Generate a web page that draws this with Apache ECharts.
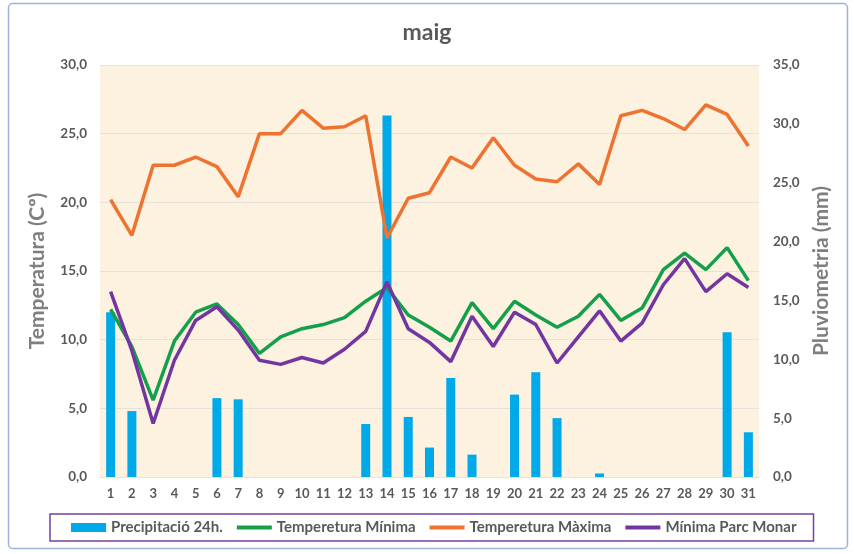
<!DOCTYPE html>
<html>
<head>
<meta charset="utf-8">
<title>maig</title>
<script src="https://cdn.jsdelivr.net/npm/echarts@6/dist/echarts.min.js"></script>
<style>
    html, body { margin: 0; padding: 0; background: #fff; }
    #chart { width: 854px; height: 554px; }
</style>
</head>
<body>
<div id="chart"></div>
<script>
// dies del mes
var dies = [];
for (var d = 1; d <= 31; d++) dies.push(String(d));

// precipitació 24h (mm)
var precipitacio = [14.0, 5.6, 0, 0, 0, 6.7, 6.6, 0, 0, 0, 0, 0, 4.5, 30.7, 5.1, 2.5,
    8.4, 1.9, 0, 7.0, 8.9, 5.0, 0, 0.3, 0, 0, 0, 0, 0, 12.3, 3.8];
// temperatura mínima (ºC)
var tempMin = [12.2, 9.5, 5.6, 9.9, 12.0, 12.6, 11.1, 9.0, 10.2, 10.8, 11.1, 11.6, 12.8, 13.8, 11.8, 10.9,
    9.9, 12.7, 10.8, 12.8, 11.8, 10.9, 11.7, 13.3, 11.4, 12.3, 15.1, 16.3, 15.1, 16.7, 14.3];
// temperatura màxima (ºC)
var tempMax = [20.2, 17.6, 22.7, 22.7, 23.3, 22.6, 20.4, 25.0, 25.0, 26.7, 25.4, 25.5, 26.3, 17.4, 20.3, 20.7,
    23.3, 22.5, 24.7, 22.7, 21.7, 21.5, 22.8, 21.3, 26.3, 26.7, 26.1, 25.3, 27.1, 26.4, 24.1];
// mínima Parc Monar (ºC)
var minParc = [13.5, 9.2, 3.9, 8.5, 11.4, 12.4, 10.7, 8.5, 8.2, 8.7, 8.3, 9.3, 10.6, 14.2, 10.8, 9.8,
    8.4, 11.7, 9.5, 12.0, 11.1, 8.3, 10.2, 12.1, 9.9, 11.2, 14.0, 15.9, 13.5, 14.8, 13.8];

var FONT = 'Lato';
var LINE_ICON = 'path://M0,0H35V4H0Z';
var fmt = function (v) { return v.toFixed(1).replace('.', ','); };

var chart = echarts.init(document.getElementById('chart'), null, { renderer: 'canvas' });

chart.setOption({
    animation: false,
    backgroundColor: '#fff',
    textStyle: { fontFamily: FONT },
    title: {
        text: 'maig',
        left: 'center',
        top: 16,
        textStyle: { fontFamily: FONT, fontSize: 23, fontWeight: 'bold', color: '#595959' }
    },
    graphic: [{
        type: 'rect',
        shape: { x: 8.5, y: 3.5, width: 839, height: 545, r: 4 },
        style: { fill: 'none', stroke: '#9DB5DE', lineWidth: 1.5 },
        z: -1
    }],
    grid: { left: 100, right: 95, top: 65, bottom: 77, show: true, backgroundColor: '#FDF1DF', borderWidth: 0 },
    legend: {
        left: 50,
        top: 514,
        padding: [6, 17, 6, 21],
        borderColor: '#7A3FA0',
        borderWidth: 1.5,
        itemWidth: 35,
        itemHeight: 9,
        itemGap: 14,
        symbolKeepAspect: true,
        textStyle: { fontFamily: FONT, fontSize: 15, fontWeight: 'bold', color: '#595959' },
        data: [
            { name: 'Precipitació 24h.', icon: 'rect' },
            { name: 'Temperetura Mínima', icon: LINE_ICON },
            { name: 'Temperetura Màxima', icon: LINE_ICON },
            { name: 'Mínima Parc Monar', icon: LINE_ICON }
        ]
    },
    xAxis: {
        type: 'category',
        data: dies,
        boundaryGap: true,
        axisLine: { show: true, lineStyle: { color: '#E3E3E3' } },
        axisTick: { show: false },
        axisLabel: { fontFamily: FONT, fontSize: 13, fontWeight: 'bold', color: '#595959', margin: 10, interval: 0 }
    },
    yAxis: [{
        type: 'value',
        min: 0, max: 30, interval: 5,
        name: 'Temperatura (Cº)',
        nameLocation: 'middle',
        nameGap: 52,
        nameTextStyle: { fontFamily: FONT, fontSize: 21, fontWeight: 'bold', color: '#7F7F7F' },
        axisLine: { show: false },
        axisTick: { show: false },
        axisLabel: { formatter: fmt, fontFamily: FONT, fontSize: 13.5, fontWeight: 'bold', color: '#595959', margin: 13 },
        splitLine: { lineStyle: { color: '#E6E2DA', width: 1 } }
    }, {
        type: 'value',
        min: 0, max: 35, interval: 5,
        name: 'Pluviometria (mm)',
        nameLocation: 'middle',
        nameGap: 52,
        nameTextStyle: { fontFamily: FONT, fontSize: 21, fontWeight: 'bold', color: '#7F7F7F' },
        axisLine: { show: false },
        axisTick: { show: false },
        axisLabel: { formatter: fmt, fontFamily: FONT, fontSize: 13.5, fontWeight: 'bold', color: '#595959', margin: 14 },
        splitLine: { show: false }
    }],
    series: [{
        name: 'Precipitació 24h.',
        type: 'bar',
        yAxisIndex: 1,
        data: precipitacio,
        barWidth: 9,
        itemStyle: { color: '#00A9E8' },
        z: 2
    }, {
        name: 'Temperetura Mínima',
        type: 'line',
        data: tempMin,
        symbol: 'none',
        lineStyle: { color: '#14A04A', width: 3.5 },
        itemStyle: { color: '#14A04A' },
        z: 3
    }, {
        name: 'Temperetura Màxima',
        type: 'line',
        data: tempMax,
        symbol: 'none',
        lineStyle: { color: '#EE7230', width: 3.5 },
        itemStyle: { color: '#EE7230' },
        z: 3
    }, {
        name: 'Mínima Parc Monar',
        type: 'line',
        data: minParc,
        symbol: 'none',
        lineStyle: { color: '#7336A0', width: 3.5 },
        itemStyle: { color: '#7336A0' },
        z: 4
    }]
});
</script>
</body>
</html>
